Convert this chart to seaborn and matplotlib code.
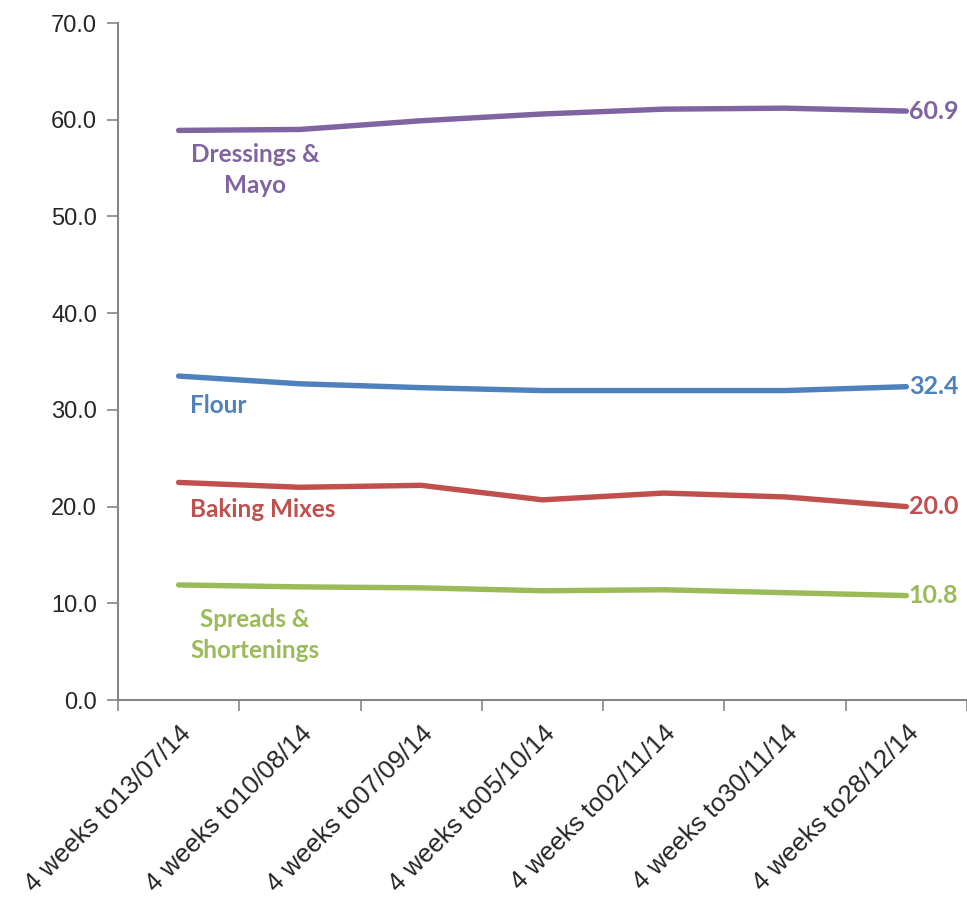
import matplotlib
matplotlib.use("Agg")
import matplotlib.pyplot as plt
import seaborn as sns
import pandas as pd
import numpy as np
from matplotlib.ticker import FixedLocator, FormatStrFormatter

periods = ["4 weeks to13/07/14", "4 weeks to10/08/14", "4 weeks to07/09/14",
           "4 weeks to05/10/14", "4 weeks to02/11/14", "4 weeks to30/11/14",
           "4 weeks to28/12/14"]
dressings = [58.9, 59.0, 59.9, 60.6, 61.1, 61.2, 60.9]
flour = [33.5, 32.7, 32.3, 32.0, 32.0, 32.0, 32.4]
baking = [22.5, 22.0, 22.2, 20.7, 21.4, 21.0, 20.0]
spreads = [11.9, 11.7, 11.6, 11.3, 11.4, 11.1, 10.8]

series_names = ["Dressings & Mayo", "Flour", "Baking Mixes", "Spreads & Shortenings"]
series_values = [dressings, flour, baking, spreads]
series_labels = ["Dressings &\nMayo", "Flour", "Baking Mixes", "Spreads &\nShortenings"]
colors = ["#8064A2", "#4F81BD", "#C0504D", "#9BBB59"]

rows = []
for name, vals in zip(series_names, series_values):
    for i, v in enumerate(vals):
        rows.append({"idx": i, "value": v, "series": name})
df = pd.DataFrame(rows)

sns.set_style("white")
plt.rcParams['font.family'] = ['Liberation Sans', 'DejaVu Sans']

fig = plt.figure(figsize=(9.67, 9.05), dpi=100)
ax = fig.add_axes([0.122, 0.2265, 0.878, 0.748])

sns.lineplot(data=df, x="idx", y="value", hue="series", palette=colors,
             hue_order=series_names, linewidth=3.9, legend=False, ax=ax,
             sort=False)
for line in ax.get_lines():
    line.set_solid_capstyle("round")
    line.set_solid_joinstyle("round")

ax.set_xlim(-0.5, 6.5)
ax.set_ylim(0, 70)
ax.set_xlabel("")
ax.set_ylabel("")

ax.yaxis.set_major_locator(FixedLocator(np.arange(0, 71, 10)))
ax.yaxis.set_major_formatter(FormatStrFormatter("%.1f"))
ax.set_xticks(range(len(periods)))
ax.set_xticklabels(periods, rotation=45, ha="right", rotation_mode="anchor",
                   fontsize=18.5)
ax.set_xticks(np.arange(-0.5, 6.6, 1), minor=True)
ax.tick_params(axis="x", which="major", length=0, pad=15)
ax.tick_params(axis="x", which="minor", length=8, width=1.2, color="#868686",
               direction="out")
ax.tick_params(axis="y", length=8, width=1.2, color="#868686", direction="out",
               labelsize=17, pad=7)
ax.yaxis.set_ticks_position("left")
ax.xaxis.set_ticks_position("bottom")

for side in ["top", "right"]:
    ax.spines[side].set_visible(False)
for side in ["left", "bottom"]:
    ax.spines[side].set_color("#868686")
    ax.spines[side].set_linewidth(1.5)

lab_font = ['Lato', 'DejaVu Sans']
# end value labels
for vals, c in zip(series_values, colors):
    ax.text(6.02, vals[-1], f"{vals[-1]:.1f}", color=c, fontsize=18,
            fontweight="bold", family=lab_font, va="center", ha="left")

# series name labels
ax.text(0.63, 54.8, series_labels[0], color=colors[0], fontsize=17.5,
        fontweight="bold", family=lab_font, ha="center", va="center",
        linespacing=1.45)
ax.text(0.09, 30.5, series_labels[1], color=colors[1], fontsize=17.5,
        fontweight="bold", family=lab_font, ha="left", va="center")
ax.text(0.09, 19.7, series_labels[2], color=colors[2], fontsize=17.5,
        fontweight="bold", family=lab_font, ha="left", va="center")
ax.text(0.63, 6.7, series_labels[3], color=colors[3], fontsize=17.5,
        fontweight="bold", family=lab_font, ha="center", va="center",
        linespacing=1.45)

fig.savefig("out.png", dpi=100)
